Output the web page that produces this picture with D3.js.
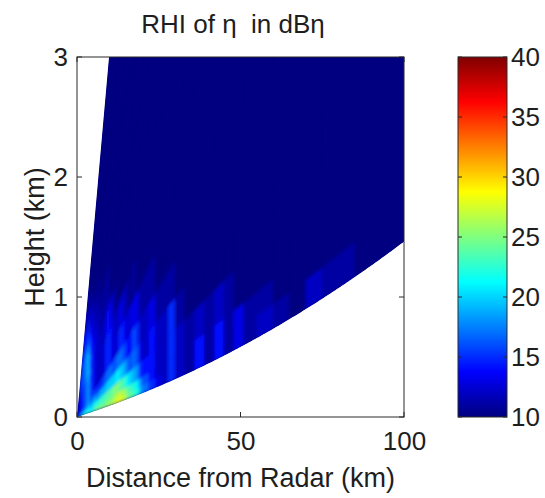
<!DOCTYPE html>
<html>
<head>
<meta charset="utf-8">
<script src="https://cdn.jsdelivr.net/npm/d3@7"></script>
<style>
  html, body { margin: 0; background: #fff; }
  svg { display: block; }
  text { font-family: "Liberation Sans", Arial, Helvetica, sans-serif; fill: #1e1e1e; }
</style>
</head>
<body>
<svg id="chart" width="545" height="498"></svg>
<script>
// Beam elevation edges (degrees) of the RHI scan
const elevationEdgesDeg = [0.5, 0.7, 0.9, 1.3, 1.8, 2.4, 3.2, 4.2, 5.5, 7.5, 10, 13, 17];
// Range-gate edges along the beam (km)
const rangeEdgesKm = [0, 1, 2, 3, 4, 5, 6, 7, 8, 9, 10, 11, 12, 13, 14, 15, 16, 17, 18, 19, 20,
  22, 24, 26, 28, 30, 33, 36, 39, 42, 45, 48, 51, 55, 60, 65, 70, 75, 85, 100, 110];

// Reflectivity eta in dB, one array per elevation beam (lowest first), one value per range gate
const etaBeam0  = [17,21,23,23,22,24,25,25,25,26, 26,27,28,28,27,25,24,23,22,19, 17,15,13,12,15,12,11,14,11,14, 11,13,11,12,11,10,12,11,10,10];
const etaBeam1  = [16,20,22,22,21,23,24,24,24,25, 25,26,27,27,26,24,23,22,21,18, 16,14,12,12,15,12,11,14,11,14, 11,13,11,11,10,10,10,10,10,10];
const etaBeam2  = [14,18,20,21,20,22,22,23,23,24, 24,25,25,24,23,21,20,19,18,15, 14,14,12,12,15,12,11,12,11,12, 11,10,10,10,10,10,10,10,10,10];
const etaBeam3  = [13,16,18,19,18,19,18,19,19,20, 20,20,21,20,19,17,16,17,16,13, 12,14,12,12,15,11,10,10,10,10, 10,10,10,10,10,10,10,10,10,10];
const etaBeam4  = [12,14,16,18,16,16,15,15,16,17, 17,16,17,17,16,14,14,16,15,12, 12,13,11,11,11,10,10,10,10,10, 10,10,10,10,10,10,10,10,10,10];
const etaBeam5  = [12,14,16,18,15,13,12,12,13,15, 14,12,13,15,14,12,13,13,13,11, 11,11,10,10,10,10,10,10,10,10, 10,10,10,10,10,10,10,10,10,10];
const etaBeam6  = [12,14,16,18,15,13,12,12,13,15, 14,12,12,13,12,11,10,11,10,10, 10,10,10,10,10,10,10,10,10,10, 10,10,10,10,10,10,10,10,10,10];
const etaBeam7  = [12,14,16,18,15,13,12,12,12,14, 13,11,10,10,10,10,10,10,10,10, 10,10,10,10,10,10,10,10,10,10, 10,10,10,10,10,10,10,10,10,10];
const etaBeam8  = [12,14,16,19,15,13,12,11,11,11, 10,10,10,10,10,10,10,10,10,10, 10,10,10,10,10,10,10,10,10,10, 10,10,10,10,10,10,10,10,10,10];
const etaBeam9  = [12,15,17,19,14,12,11,10,10,10, 10,10,10,10,10,10,10,10,10,10, 10,10,10,10,10,10,10,10,10,10, 10,10,10,10,10,10,10,10,10,10];
const etaBeam10 = [13,16,17,15,12,10,10,10,10,10, 10,10,10,10,10,10,10,10,10,10, 10,10,10,10,10,10,10,10,10,10, 10,10,10,10,10,10,10,10,10,10];
const etaBeam11 = [12,15,14,11,10,10,10,10,10,10, 10,10,10,10,10,10,10,10,10,10, 10,10,10,10,10,10,10,10,10,10, 10,10,10,10,10,10,10,10,10,10];
const etaDb = [etaBeam0, etaBeam1, etaBeam2, etaBeam3, etaBeam4, etaBeam5,
  etaBeam6, etaBeam7, etaBeam8, etaBeam9, etaBeam10, etaBeam11];

const xTicks = [0, 50, 100];
const yTicks = [0, 1, 2, 3];
const colorTicks = [10, 15, 20, 25, 30, 35, 40];
const colorLimits = [10, 40];

// ---- layout ----
const svg = d3.select("#chart");
const plot = { left: 77, right: 404, top: 57, bottom: 417 };
const cbar = { left: 458, right: 507 };
const fontSize = 26;

const x = d3.scaleLinear().domain([0, 100]).range([plot.left, plot.right]);
const y = d3.scaleLinear().domain([0, 3]).range([plot.bottom, plot.top]);

// MATLAB-style jet colormap
function jet(t) {
  const c = v => Math.max(0, Math.min(1, v));
  return d3.rgb(255 * c(1.5 - Math.abs(4 * t - 3)),
                255 * c(1.5 - Math.abs(4 * t - 2)),
                255 * c(1.5 - Math.abs(4 * t - 1))).formatHex();
}
const color = d3.scaleSequential(jet).domain(colorLimits).clamp(true);

// Beam propagation with the 4/3 effective earth radius model
const kR = 4 / 3 * 6371;
function beamPoint(rKm, elevDeg) {
  const e = elevDeg * Math.PI / 180;
  const h = Math.sqrt(rKm * rKm + kR * kR + 2 * rKm * kR * Math.sin(e)) - kR;
  const s = kR * Math.asin(rKm * Math.cos(e) / (kR + h));
  return [x(s), y(h)];
}
function sector(r0, r1, e0, e1) {
  const n = Math.max(2, Math.ceil((r1 - r0) / 0.5));
  const pts = [];
  for (let i = 0; i <= n; i++) pts.push(beamPoint(r0 + (r1 - r0) * i / n, e0));
  const m = Math.max(2, Math.ceil((e1 - e0) / 0.5));
  for (let j = 1; j <= m; j++) pts.push(beamPoint(r1, e0 + (e1 - e0) * j / m));
  for (let i = n - 1; i >= 0; i--) pts.push(beamPoint(r0 + (r1 - r0) * i / n, e1));
  return "M" + pts.map(p => p[0].toFixed(2) + "," + p[1].toFixed(2)).join("L") + "Z";
}

const defs = svg.append("defs");
defs.append("clipPath").attr("id", "plotClip")
  .append("rect").attr("x", plot.left).attr("y", plot.top)
  .attr("width", plot.right - plot.left).attr("height", plot.bottom - plot.top);
const rMax = rangeEdgesKm[rangeEdgesKm.length - 1];
const eLo = elevationEdgesDeg[0], eHi = elevationEdgesDeg[elevationEdgesDeg.length - 1];
const envelope = sector(0, rMax, eLo, eHi);
defs.append("clipPath").attr("id", "beamClip").append("path").attr("d", envelope);
defs.append("filter").attr("id", "soft")
  .attr("x", "-5%").attr("y", "-5%").attr("width", "110%").attr("height", "110%")
  .append("feGaussianBlur").attr("stdDeviation", 1.4);

// ---- tick marks (inward, on all four sides), drawn under the field ----
const tickLen = 5;
const ticksG = svg.append("g").attr("stroke", "#2a2a2a").attr("stroke-width", 1);
xTicks.forEach(v => {
  ticksG.append("line").attr("x1", x(v)).attr("x2", x(v)).attr("y1", plot.bottom).attr("y2", plot.bottom - tickLen);
  ticksG.append("line").attr("x1", x(v)).attr("x2", x(v)).attr("y1", plot.top).attr("y2", plot.top + tickLen);
});
yTicks.forEach(v => {
  ticksG.append("line").attr("x1", plot.left).attr("x2", plot.left + tickLen).attr("y1", y(v)).attr("y2", y(v));
  ticksG.append("line").attr("x1", plot.right).attr("x2", plot.right - tickLen).attr("y1", y(v)).attr("y2", y(v));
});

// ---- RHI field ----
const field = svg.append("g").attr("clip-path", "url(#plotClip)")
  .append("g").attr("clip-path", "url(#beamClip)");
field.append("path").attr("d", envelope).attr("fill", color(colorLimits[0]));
const cells = field.append("g").attr("filter", "url(#soft)");
etaDb.forEach((row, i) => {
  row.forEach((v, j) => {
    const c = color(v);
    cells.append("path")
      .attr("d", sector(rangeEdgesKm[j], rangeEdgesKm[j + 1], elevationEdgesDeg[i], elevationEdgesDeg[i + 1]))
      .attr("fill", c).attr("stroke", c).attr("stroke-width", 0.6);
  });
});

// ---- axes box and labels ----
svg.append("rect").attr("x", plot.left).attr("y", plot.top)
  .attr("width", plot.right - plot.left).attr("height", plot.bottom - plot.top)
  .attr("fill", "none").attr("stroke", "#2a2a2a").attr("stroke-width", 1);

const xAxis = d3.axisBottom(x).tickValues(xTicks).tickSize(0).tickPadding(15).tickFormat(d3.format("d"));
const xg = svg.append("g").attr("transform", `translate(0,${plot.bottom})`).call(xAxis);
const yAxis = d3.axisLeft(y).tickValues(yTicks).tickSize(0).tickPadding(9).tickFormat(d3.format("d"));
const yg = svg.append("g").attr("transform", `translate(${plot.left},0)`).call(yAxis);
[xg, yg].forEach(g => {
  g.select(".domain").remove();
  g.selectAll("text").attr("font-size", fontSize).attr("font-family", null).attr("fill", "#1e1e1e");
});

svg.append("text").attr("x", 233).attr("y", 33).attr("text-anchor", "middle")
  .style("white-space", "pre")
  .attr("font-size", fontSize).text("RHI of η  in dBη");
svg.append("text").attr("x", (plot.left + plot.right) / 2).attr("y", 487).attr("text-anchor", "middle")
  .attr("font-size", 27).text("Distance from Radar (km)");
svg.append("text").attr("transform", `translate(44,${(plot.top + plot.bottom) / 2}) rotate(-90)`)
  .attr("text-anchor", "middle").attr("font-size", 27).text("Height (km)");

// ---- colorbar ----
const cy = d3.scaleLinear().domain(colorLimits).range([plot.bottom, plot.top]);
const grad = defs.append("linearGradient").attr("id", "jetGrad")
  .attr("x1", 0).attr("y1", 1).attr("x2", 0).attr("y2", 0);
d3.range(0, 1.0001, 1 / 64).forEach(t => {
  grad.append("stop").attr("offset", t).attr("stop-color", color(colorLimits[0] + t * (colorLimits[1] - colorLimits[0])));
});
svg.append("rect").attr("x", cbar.left).attr("y", plot.top)
  .attr("width", cbar.right - cbar.left).attr("height", plot.bottom - plot.top)
  .attr("fill", "url(#jetGrad)").attr("stroke", "#2a2a2a").attr("stroke-width", 1);
const cg = svg.append("g");
colorTicks.forEach(v => {
  cg.append("line").attr("x1", cbar.left).attr("x2", cbar.left + 4).attr("y1", cy(v)).attr("y2", cy(v))
    .attr("stroke", "#2a2a2a");
  cg.append("line").attr("x1", cbar.right).attr("x2", cbar.right - 4).attr("y1", cy(v)).attr("y2", cy(v))
    .attr("stroke", "#2a2a2a");
  cg.append("text").attr("x", cbar.right + 4).attr("y", cy(v)).attr("dy", "0.36em")
    .attr("font-size", fontSize).text(v);
});
</script>
</body>
</html>
